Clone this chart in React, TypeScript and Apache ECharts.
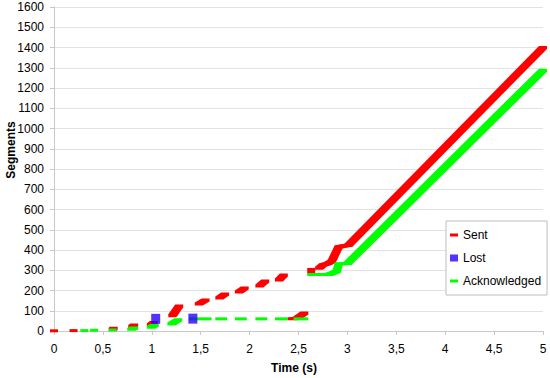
import React, { useEffect, useRef } from "react";
import * as echarts from "echarts";

// Each burst is a run of [time (s), segment] points sent/acknowledged back-to-back
const sentBursts: number[][][] = [
  [[0.0, 1]],
  [[0.2, 2]],
  [[0.6, 8], [0.61, 13]],
  [[0.8, 22], [0.82, 30]],
  [[0.99, 30], [1.02, 42]],
  [[1.21, 75], [1.28, 123]],
  [[1.48, 133], [1.55, 153]],
  [[1.69, 163], [1.75, 183]],
  [[1.89, 193], [1.95, 212]],
  [[2.1, 222], [2.16, 247]],
  [[2.3, 252], [2.35, 277]],
  [[2.43, 60], [2.48, 62], [2.56, 89]],
  [[2.63, 290], [2.63, 304]],
  [[2.71, 310], [2.75, 326], [2.8, 333], [2.84, 345], [2.91, 415], [2.96, 420], [3.01, 424], [5.0, 1400]],
];

const lostPoints: number[][] = [
  [1.04, 60],
  [1.42, 61],
];

const ackBursts: number[][][] = [
  [[0.31, 2]],
  [[0.41, 4]],
  [[0.6, 5]],
  [[0.79, 9], [0.82, 15]],
  [[0.99, 18], [1.03, 28]],
  [[1.2, 35], [1.27, 55]],
  [[1.42, 60], [1.57, 60]],
  [[1.69, 60], [1.73, 60]],
  [[1.89, 60], [1.93, 60]],
  [[2.1, 60], [2.14, 60]],
  [[2.3, 60], [2.35, 60]],
  [[2.49, 60], [2.56, 60]],
  [[2.63, 279], [2.81, 279], [2.89, 294], [2.91, 331], [3.0, 333], [5.0, 1288]],
];

const xTicks = { min: 0, max: 5, interval: 0.5 };
const yTicks = { min: 0, max: 1600, interval: 100 };

const FONT = "Liberation Sans, Arial, sans-serif";

function toSegments(bursts: number[][][]): number[][] {
  const out: number[][] = [];
  bursts.forEach((b) => {
    if (b.length === 1) out.push([b[0][0], b[0][1], b[0][0], b[0][1]]);
    else for (let i = 1; i < b.length; i++) out.push([b[i - 1][0], b[i - 1][1], b[i][0], b[i][1]]);
  });
  return out;
}

function dashRender(color: string) {
  return (params: any, api: any) => {
    const p1 = api.coord([api.value(0), api.value(1)]);
    const p2 = api.coord([api.value(2), api.value(3)]);
    const hw = 4;
    const hh = 1.5;
    const [x1, y1] = p1;
    const [x2, y2] = p2;
    const points = [
      [x1 - hw, y1 + hh],
      [x1 + hw, y1 + hh],
      [x2 + hw, y2 + hh],
      [x2 + hw, y2 - hh],
      [x2 - hw, y2 - hh],
      [x1 - hw, y1 - hh],
    ];
    return { type: "polygon", shape: { points }, style: { fill: color } };
  };
}

const DASH_ICON = "path://M0,0H8V3H0Z";

export default function App() {
  const ref = useRef<HTMLDivElement>(null);
  useEffect(() => {
    if (!ref.current) return;
    const chart = echarts.init(ref.current, undefined, { renderer: "svg" });
    const axisGray = "#c8c8c8";
    chart.setOption({
      animation: false,
      backgroundColor: "#fff",
      textStyle: { fontFamily: FONT },
      grid: { left: 54, right: 7, top: 7, bottom: 47, containLabel: false, outerBoundsMode: "none" },
      xAxis: {
        type: "value",
        min: xTicks.min,
        max: xTicks.max,
        interval: xTicks.interval,
        name: "Time (s)",
        nameLocation: "middle",
        nameGap: 31,
        nameMoveOverlap: false,
        nameTextStyle: { fontFamily: FONT, fontSize: 12, fontWeight: "bold", color: "#000", padding: [0, 9, 0, 0] },
        axisLine: { show: true, lineStyle: { color: axisGray } },
        axisTick: { show: true, length: 4, lineStyle: { color: axisGray } },
        splitLine: { show: false },
        axisLabel: {
          fontFamily: FONT,
          fontSize: 12,
          color: "#000",
          margin: 12,
          formatter: (v: number) => String(v).replace(".", ","),
        },
      },
      yAxis: {
        type: "value",
        min: yTicks.min,
        max: yTicks.max,
        interval: yTicks.interval,
        name: "Segments",
        nameLocation: "middle",
        nameGap: 37,
        nameRotate: 90,
        nameMoveOverlap: false,
        nameTextStyle: { fontFamily: FONT, fontSize: 12, fontWeight: "bold", color: "#000", padding: [0, 0, 0, 38] },
        axisLine: { show: true, lineStyle: { color: axisGray } },
        axisTick: { show: true, length: 4, lineStyle: { color: axisGray } },
        splitLine: { show: true, lineStyle: { color: "#e2e2e2" } },
        axisLabel: { fontFamily: FONT, fontSize: 12, color: "#000", margin: 10, formatter: (v: number) => String(v) },
      },
      legend: {
        orient: "vertical",
        left: 446,
        top: 221,
        padding: [8, 6, 8, 4],
        itemGap: 11,
        itemWidth: 8,
        itemHeight: 7,
        backgroundColor: "#fff",
        borderColor: "#bdbdbd",
        borderWidth: 1,
        z: 10,
        textStyle: { fontFamily: FONT, fontSize: 12, color: "#000" },
        data: [
          { name: "Sent", icon: DASH_ICON },
          { name: "Lost", icon: "rect" },
          { name: "Acknowledged", icon: DASH_ICON },
        ],
      },
      series: [
        {
          name: "Sent",
          type: "custom",
          clip: false,
          z: 2,
          itemStyle: { color: "#ff0000" },
          encode: { x: [0, 2], y: [1, 3] },
          renderItem: dashRender("#ff0000"),
          data: toSegments(sentBursts),
        },
        {
          name: "Acknowledged",
          type: "custom",
          clip: false,
          z: 3,
          itemStyle: { color: "#00ff00" },
          encode: { x: [0, 2], y: [1, 3] },
          renderItem: dashRender("#00ff00"),
          data: toSegments(ackBursts),
        },
        {
          name: "Lost",
          type: "scatter",
          z: 4,
          symbol: "rect",
          symbolSize: [9, 10],
          itemStyle: { color: "#2b00ff" },
          data: lostPoints,
        },
      ],
    });
    return () => chart.dispose();
  }, []);
  return (
    <div
      ref={ref}
      style={{ position: "fixed", left: 0, top: 0, width: 550, height: 378, background: "#fff" }}
    />
  );
}
